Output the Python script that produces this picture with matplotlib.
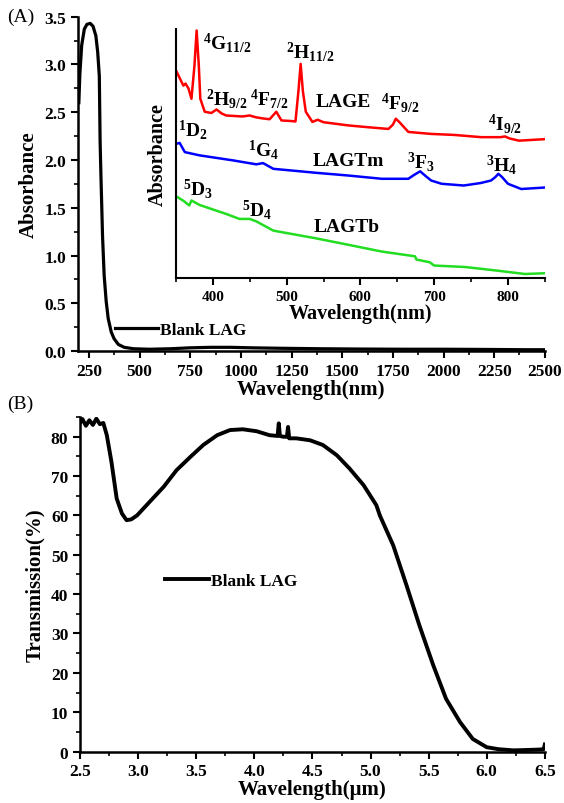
import matplotlib
matplotlib.use("Agg")
import matplotlib.pyplot as plt
from matplotlib.ticker import MultipleLocator

plt.rcParams["font.family"] = ["Liberation Serif", "DejaVu Serif"]
plt.rcParams["font.weight"] = "bold"
plt.rcParams["axes.labelweight"] = "bold"
plt.rcParams["mathtext.fontset"] = "custom"
plt.rcParams["mathtext.rm"] = "Liberation Serif:bold"
plt.rcParams["mathtext.it"] = "Liberation Serif:bold"
plt.rcParams["mathtext.bf"] = "Liberation Serif:bold"
plt.rcParams["mathtext.default"] = "rm"

# ---- panel A: UV-Vis-NIR absorbance of blank LAG ----
wl_a = [200, 205, 214, 227, 240, 256, 270, 284, 293, 301, 305, 309, 317, 325,
        335, 345, 360, 374, 395, 424, 470, 550, 650, 750, 850, 950, 1050, 1200,
        1400, 1600, 1800, 2000, 2200, 2400, 2500]
abs_a = [2.6, 2.9, 3.2, 3.37, 3.42, 3.43, 3.40, 3.30, 3.13, 2.88, 2.19, 1.84,
         1.2, 0.79, 0.52, 0.34, 0.2, 0.13, 0.07, 0.04, 0.025, 0.02, 0.025,
         0.035, 0.04, 0.04, 0.035, 0.03, 0.025, 0.022, 0.02, 0.02, 0.018,
         0.015, 0.015]

# ---- inset: doped samples (arbitrary units) ----
wl_e = [350, 360, 363, 367, 371, 375, 378, 381, 383, 389, 398, 405, 412, 418,
        440, 450, 458, 468, 477, 486, 493, 505, 512, 516, 519, 522, 526, 535,
        542, 550, 584, 610, 638, 644, 648, 653, 665, 696, 727, 764, 790, 796,
        802, 815, 850]
abs_e = [0.833, 0.772, 0.78, 0.76, 0.719, 0.85, 0.993, 0.85, 0.719, 0.667,
         0.662, 0.676, 0.66, 0.652, 0.648, 0.652, 0.645, 0.64, 0.637, 0.667,
         0.632, 0.63, 0.628, 0.75, 0.859, 0.75, 0.667, 0.626, 0.635, 0.625,
         0.612, 0.605, 0.598, 0.615, 0.639, 0.625, 0.586, 0.578, 0.574,
         0.565, 0.565, 0.568, 0.56, 0.551, 0.557]

wl_tm = [350, 355, 362, 382, 427, 459, 468, 482, 540, 584, 629, 665, 672,
         681, 688, 696, 710, 740, 763, 777, 783, 787, 792, 800, 818, 850]
abs_tm = [0.538, 0.542, 0.505, 0.492, 0.472, 0.456, 0.461, 0.438, 0.422,
          0.411, 0.398, 0.398, 0.412, 0.428, 0.41, 0.391, 0.378, 0.371,
          0.381, 0.391, 0.405, 0.418, 0.405, 0.378, 0.357, 0.363]

wl_tb = [350, 360, 368, 371, 382, 418, 436, 450, 459, 482, 540, 584, 629,
         674, 676, 694, 700, 742, 787, 823, 850]
abs_tb = [0.328, 0.31, 0.291, 0.311, 0.293, 0.257, 0.237, 0.237, 0.227,
          0.190, 0.159, 0.133, 0.106, 0.087, 0.074, 0.063, 0.050, 0.044,
          0.029, 0.016, 0.019]

inset_labels = [r"$^{4}$G$_{11/2}$", r"$^{2}$H$_{11/2}$", r"$^{2}$H$_{9/2}$",
                r"$^{4}$F$_{7/2}$", "LAGE", r"$^{4}$F$_{9/2}$", r"$^{4}$I$_{9/2}$",
                r"$^{1}$D$_{2}$", r"$^{1}$G$_{4}$", "LAGTm", r"$^{3}$F$_{3}$",
                r"$^{3}$H$_{4}$", r"$^{5}$D$_{3}$", r"$^{5}$D$_{4}$", "LAGTb"]
label_x = [386, 499, 391, 450, 540, 628, 773, 353, 447, 535, 663, 770, 360, 440, 537]
label_y = [0.948, 0.91, 0.723, 0.723, 0.707, 0.705, 0.622, 0.598, 0.518,
           0.471, 0.468, 0.458, 0.361, 0.277, 0.205]

# ---- panel B: mid-IR transmission ----
wl_b = [2.50, 2.52, 2.55, 2.58, 2.61, 2.64, 2.67, 2.70, 2.73, 2.77, 2.815,
        2.86, 2.90, 2.94, 2.99, 3.10, 3.22, 3.33, 3.45, 3.56, 3.68, 3.79,
        3.90, 4.02, 4.13, 4.20, 4.21, 4.22, 4.25, 4.28, 4.29, 4.30, 4.36,
        4.48, 4.59, 4.71, 4.82, 4.94, 5.05, 5.08, 5.195, 5.31, 5.42, 5.54,
        5.65, 5.77, 5.88, 6.00, 6.10, 6.23, 6.35, 6.45, 6.49, 6.50]
trans_b = [83.5, 84.5, 82.8, 84.2, 83.0, 84.6, 83.2, 83.5, 80.4, 73.6, 64.3,
           60.5, 58.8, 59.0, 60.0, 63.5, 67.3, 71.5, 74.9, 77.9, 80.4, 81.7,
           81.9, 81.4, 80.4, 80.2, 83.4, 80.2, 80.0, 80.0, 82.5, 79.6, 79.6,
           79.1, 77.9, 75.3, 71.9, 67.7, 62.6, 60.0, 52.4, 42.2, 32.1, 21.9,
           13.4, 7.5, 3.2, 1.1, 0.6, 0.3, 0.4, 0.5, 0.6, 1.8]

fig = plt.figure(figsize=(5.64, 8.04), dpi=100)


def style_axes(ax, tick_size):
    for side in ["top", "right"]:
        ax.spines[side].set_visible(False)
    for side in ["left", "bottom"]:
        ax.spines[side].set_linewidth(1.8)
    ax.tick_params(which="major", direction="out", length=5, width=1.5,
                   labelsize=tick_size)
    ax.tick_params(which="minor", direction="out", length=3, width=1.2)


# panel A
ax1 = fig.add_axes([0.138, 0.562, 0.828, 0.416])
ax1.plot(wl_a, abs_a, color="black", lw=2.3, label="Blank LAG")
ax1.set_xlim(195, 2500)
ax1.set_ylim(0, 3.5)
ax1.xaxis.set_major_locator(MultipleLocator(250))
ax1.xaxis.set_minor_locator(MultipleLocator(125))
ax1.yaxis.set_major_locator(MultipleLocator(0.5))
ax1.yaxis.set_minor_locator(MultipleLocator(0.25))
style_axes(ax1, 12.5)
ax1.set_xlabel("Wavelength(nm)", fontsize=15, fontweight="bold", labelpad=0)
ax1.set_ylabel("Absorbance", fontsize=15, fontweight="bold", labelpad=4)
ax1.legend(frameon=False, loc="center left", bbox_to_anchor=(0.06, 0.063),
           prop={"size": 12.5, "weight": "bold"}, handlelength=2.5,
           handletextpad=0.1, borderpad=0)
fig.text(0.012, 0.978, "(A)", fontsize=14, fontweight="normal", va="center")

# inset
ax2 = fig.add_axes([0.312, 0.653, 0.654, 0.31])
ax2.plot(wl_e, abs_e, color="red", lw=1.8)
ax2.plot(wl_tm, abs_tm, color="blue", lw=1.8)
ax2.plot(wl_tb, abs_tb, color="#22dd22", lw=1.8)
ax2.set_xlim(350, 850)
ax2.set_ylim(0, 1.0)
ax2.xaxis.set_major_locator(MultipleLocator(100))
ax2.xaxis.set_minor_locator(MultipleLocator(50))
ax2.set_yticks([])
style_axes(ax2, 11)
ax2.spines["left"].set_linewidth(1.5)
ax2.spines["bottom"].set_linewidth(1.5)
ax2.set_xlabel("Wavelength(nm)", fontsize=14.5, fontweight="bold", labelpad=0)
ax2.set_ylabel("Absorbance", fontsize=14.5, fontweight="bold", labelpad=6)
for txt, x, y in zip(inset_labels, label_x, label_y):
    ax2.text(x, y, txt, fontsize=14, fontweight="bold", ha="left", va="center")

# panel B
ax3 = fig.add_axes([0.142, 0.064, 0.824, 0.416])
ax3.plot(wl_b, trans_b, color="black", lw=2.8, label="Blank LAG")
ax3.set_xlim(2.5, 6.5)
ax3.set_ylim(0, 85)
ax3.xaxis.set_major_locator(MultipleLocator(0.5))
ax3.xaxis.set_minor_locator(MultipleLocator(0.25))
ax3.yaxis.set_major_locator(MultipleLocator(10))
ax3.yaxis.set_minor_locator(MultipleLocator(5))
style_axes(ax3, 12.5)
ax3.set_xlabel("Wavelength(\u03bcm)", fontsize=15, fontweight="bold", labelpad=0)
ax3.set_ylabel("Transmission(%)", fontsize=15, fontweight="bold", labelpad=4)
ax3.legend(frameon=False, loc="center left", bbox_to_anchor=(0.165, 0.511),
           prop={"size": 12.5, "weight": "bold"}, handlelength=2.5,
           handletextpad=0.1, borderpad=0)
fig.text(0.012, 0.497, "(B)", fontsize=14, fontweight="normal", va="center")

# make sure every tick label is bold once the ticks exist
fig.canvas.draw()
for ax in [ax1, ax2, ax3]:
    for lbl in ax.get_xticklabels() + ax.get_yticklabels():
        lbl.set_fontweight("bold")

fig.savefig("out.png", dpi=100)
plt.close(fig)
